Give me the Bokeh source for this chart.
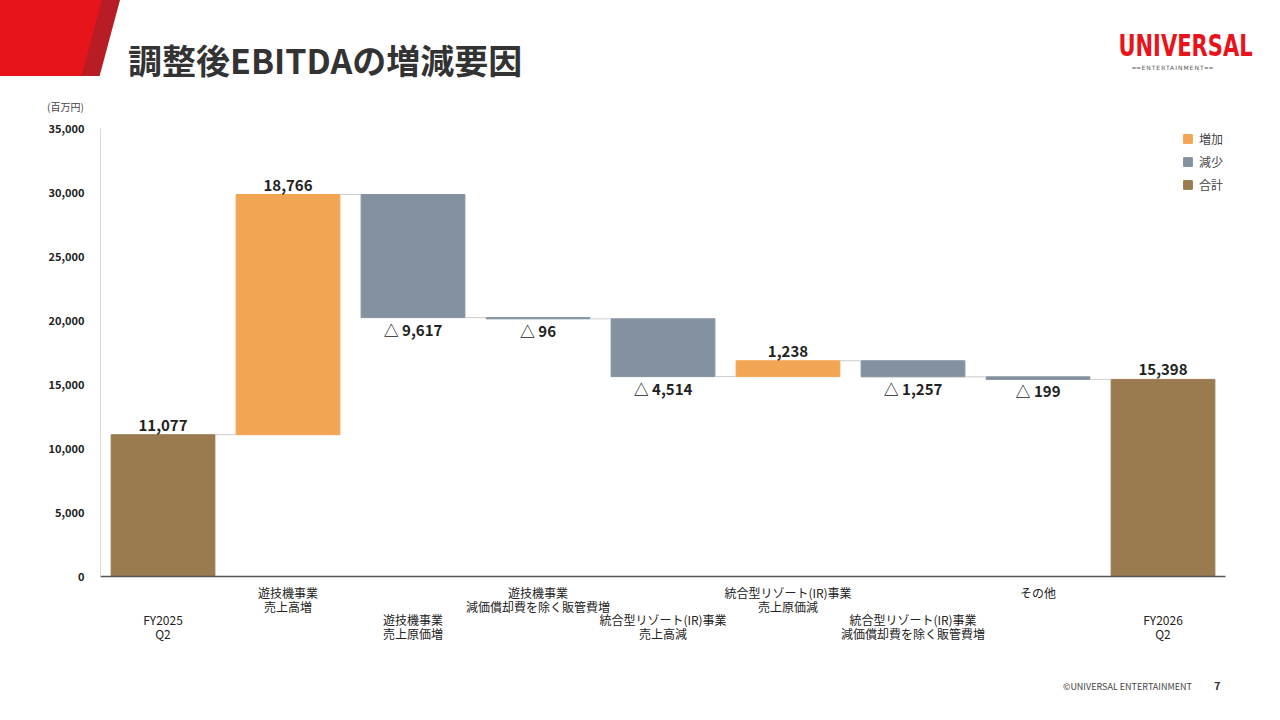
from bokeh.plotting import figure
from bokeh.models import (ColumnDataSource, Label, Legend, LegendItem, Range1d,
                          NumeralTickFormatter, FixedTicker, LinearAxis, Div)
from bokeh.layouts import column
from bokeh.embed import file_html
from bokeh.resources import INLINE

categories = ["FY2025\nQ2", "遊技機事業\n売上高増", "遊技機事業\n売上原価増",
              "遊技機事業\n減価償却費を除く販管費増", "統合型リゾート(IR)事業\n売上高減",
              "統合型リゾート(IR)事業\n売上原価減", "統合型リゾート(IR)事業\n減価償却費を除く販管費増",
              "その他", "FY2026\nQ2"]
changes = [11077, 18766, -9617, -96, -4514, 1238, -1257, -199, 15398]
kinds = ["total", "inc", "dec", "dec", "dec", "inc", "dec", "dec", "total"]
y_ticks = [0, 5000, 10000, 15000, 20000, 25000, 30000, 35000]

colors = {"inc": "#F2A553", "dec": "#8391A0", "total": "#9A7B4F"}
names = {"inc": "増加", "dec": "減少", "total": "合計"}
FONT = "Noto Sans CJK JP"

W = 1280
HEAD_H = 120
FIG_H = 536
ML, MT, FW, FH = 100, 8, 1125, 448

header = Div(width=W, height=HEAD_H, margin=0, text=f"""
<div style="position:relative;width:{W}px;height:{HEAD_H}px;font-family:'{FONT}';overflow:hidden;">
  <div style="position:absolute;left:0;top:0;width:120px;height:76px;background:#B81C24;
              clip-path:polygon(0 0,100% 0,83% 100%,0 100%);"></div>
  <div style="position:absolute;left:0;top:0;width:102px;height:76px;background:#E8141C;
              clip-path:polygon(0 0,100% 0,80% 100%,0 100%);"></div>
  <div style="position:absolute;left:128px;top:36px;font-size:34px;font-weight:bold;color:#333;
              line-height:48px;white-space:nowrap;">調整後EBITDAの増減要因</div>
  <div style="position:absolute;left:1103px;top:31px;width:140px;text-align:center;
              font-family:'DejaVu Sans Condensed','DejaVu Sans';font-weight:bold;font-size:30px;
              line-height:30px;color:#E8141C;white-space:nowrap;
              transform:scale(0.78,1.0);transform-origin:center;">UNIVERSAL</div>
  <div style="position:absolute;left:1103px;top:64px;width:140px;text-align:center;
              font-family:'DejaVu Sans';font-size:6px;line-height:7px;color:#555;letter-spacing:1px;
              white-space:nowrap;">══ENTERTAINMENT══</div>
  <div style="position:absolute;left:47px;top:100px;font-size:10px;color:#444;
              white-space:nowrap;">(百万円)</div>
</div>""")

footer = Div(width=W, height=64, margin=0, text=f"""
<div style="position:relative;width:{W}px;height:64px;font-family:'{FONT}';">
  <div style="position:absolute;right:88px;top:25px;font-size:9px;color:#444;white-space:nowrap;">©UNIVERSAL ENTERTAINMENT</div>
  <div style="position:absolute;left:1214px;top:22px;font-size:11px;font-weight:bold;color:#333;">7</div>
</div>""")

p = figure(width=W, height=FIG_H, output_backend="svg", toolbar_location=None,
           x_range=Range1d(-0.5, 8.5), y_range=Range1d(0, 35000),
           min_border_left=ML, min_border_top=MT, frame_width=FW, frame_height=FH,
           min_border_right=W - ML - FW, min_border_bottom=FIG_H - MT - FH, margin=0)
p.outline_line_color = None
p.grid.visible = False
p.yaxis.ticker = FixedTicker(ticks=y_ticks)
p.yaxis.formatter = NumeralTickFormatter(format="0,0")
p.yaxis.major_label_text_font = FONT
p.yaxis.major_label_text_font_size = "11px"
p.yaxis.major_label_text_font_style = "bold"
p.yaxis.major_label_text_color = "#222222"
p.yaxis.axis_line_color = "#d9d9d9"
p.yaxis.major_tick_line_color = None
p.yaxis.minor_tick_line_color = None
p.yaxis.major_label_standoff = 10

odd = [i for i in range(len(categories)) if i % 2 == 1]
even = [i for i in range(len(categories)) if i % 2 == 0]

def line_of(i, n):
    parts = categories[i].split("\n")
    return parts[n] if n < len(parts) else ""

rows = [(odd, 0, 1), (odd, 1, -12), (even, 0, -13), (even, 1, -12)]
first = True
for ticks, n, standoff in rows:
    overrides = {i: line_of(i, n) for i in ticks}
    if first:
        ax = p.xaxis[0]
        ax.axis_line_color = "#555555"
        ax.axis_line_width = 1.5
        first = False
    else:
        ax = LinearAxis(axis_line_color=None)
        p.add_layout(ax, "below")
    ax.ticker = FixedTicker(ticks=ticks)
    ax.major_label_overrides = overrides
    ax.major_tick_line_color = None
    ax.minor_tick_line_color = None
    ax.major_label_standoff = standoff
    ax.major_label_text_font = FONT
    ax.major_label_text_font_size = "12px"
    ax.major_label_text_color = "#222222"

# compute waterfall
bottoms, tops, levels = [], [], []
run = 0
for c, k in zip(changes, kinds):
    if k == "total":
        b, t = 0, c
        run = c
    else:
        b, t = (run, run + c) if c > 0 else (run + c, run)
        run += c
    bottoms.append(b); tops.append(t); levels.append(run)

items = []
for k in ["inc", "dec", "total"]:
    idx = [i for i in range(len(changes)) if kinds[i] == k]
    src = ColumnDataSource(dict(x=idx, b=[bottoms[i] for i in idx], t=[tops[i] for i in idx]))
    r = p.vbar(x="x", bottom="b", top="t", width=0.83, source=src, color=colors[k])
    items.append(LegendItem(label=names[k], renderers=[r]))

# connectors
cx0 = [i + 0.415 for i in range(len(changes) - 1)]
cx1 = [i + 1 - 0.415 for i in range(len(changes) - 1)]
cy = levels[:-1]
p.segment(x0=cx0, x1=cx1, y0=cy, y1=cy, color="#cccccc", line_width=1)

# value labels
for i, (c, k) in enumerate(zip(changes, kinds)):
    if c >= 0:
        p.add_layout(Label(x=i, y=tops[i], text=f"{c:,}", text_align="center",
                           text_baseline="bottom", y_offset=4, text_font=FONT,
                           text_font_size="15px", text_font_style="bold", text_color="#222222"))
    else:
        p.add_layout(Label(x=i, y=bottoms[i], text=f"△ {-c:,}", text_align="center",
                           text_baseline="top", y_offset=-1, text_font=FONT,
                           text_font_size="15px", text_font_style="bold", text_color="#222222"))

legend = Legend(items=items, location="top_right", border_line_color=None,
                background_fill_alpha=0, label_text_font=FONT, label_text_font_size="12px",
                glyph_width=11, glyph_height=11, spacing=6, label_standoff=6,
                margin=2, padding=2)
p.add_layout(legend)

layout = column(header, p, footer, spacing=0, margin=0)
open("out.html", "w").write(file_html(layout, INLINE))
